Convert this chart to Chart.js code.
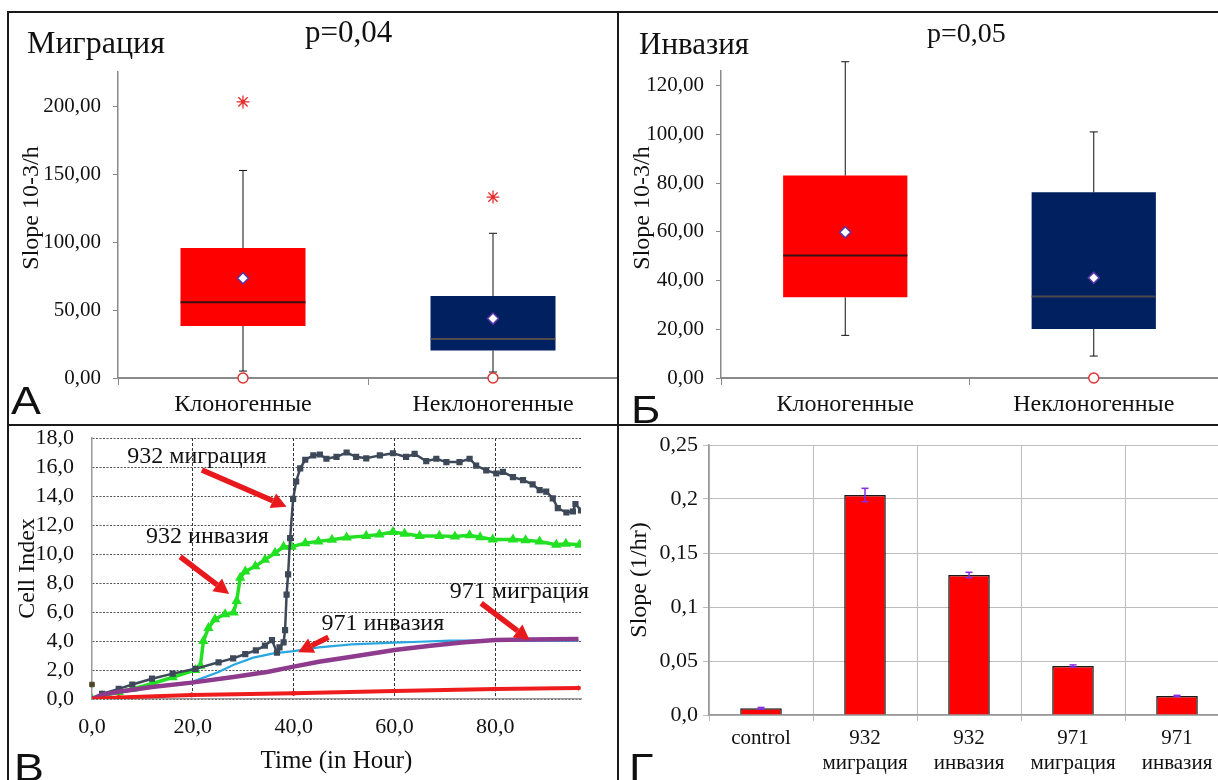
<!DOCTYPE html>
<html>
<head>
<meta charset="utf-8">
<script src="https://cdn.jsdelivr.net/npm/chart.js@4.4.1/dist/chart.umd.min.js"></script>
<style>
  body { margin: 0; background: #fff; }
  #page { position: relative; width: 1218px; height: 780px; overflow: hidden; background: #fff; font-family: "Liberation Serif", "Times New Roman", serif; color: #111; }
  .panel { position: absolute; overflow: hidden; }
  .rule { position: absolute; background: #1a1a1a; z-index: 3; }
  .txt { position: absolute; white-space: nowrap; z-index: 2; }
  .vtitle { position: absolute; white-space: nowrap; z-index: 2; font-size: 24px; transform: translate(-50%, -50%) rotate(-90deg); }
  .letter { position: absolute; font-family: "Liberation Sans", Arial, sans-serif; font-size: 38px; z-index: 2; transform: scaleX(1.18); transform-origin: left top; }
</style>
</head>
<body>
<div id="page">
  <div class="panel" style="left:0;top:0;width:618px;height:425px"><canvas id="chartA" width="618" height="425"></canvas></div>
  <div class="panel" style="left:618px;top:0;width:600px;height:425px"><canvas id="chartB" width="600" height="425"></canvas></div>
  <div class="panel" style="left:0;top:425px;width:618px;height:355px"><canvas id="chartC" width="618" height="355"></canvas></div>
  <div class="panel" style="left:618px;top:425px;width:600px;height:355px"><canvas id="chartD" width="612" height="355"></canvas></div>

  <div class="rule" style="left:7px;top:11px;width:1211px;height:2px"></div>
  <div class="rule" style="left:7px;top:11px;width:2px;height:769px"></div>
  <div class="rule" style="left:617px;top:11px;width:2px;height:769px"></div>
  <div class="rule" style="left:7px;top:424px;width:1211px;height:2px"></div>

  <div class="txt" style="left:27px;top:24px;font-size:32px">Миграция</div>
  <div class="txt" style="left:305px;top:14px;font-size:31px">p=0,04</div>
  <div class="txt" style="left:639px;top:26px;font-size:31px">Инвазия</div>
  <div class="txt" style="left:927px;top:17px;font-size:28px">p=0,05</div>
  <div class="vtitle" style="left:30px;top:208px">Slope 10-3/h</div>
  <div class="vtitle" style="left:641px;top:208px">Slope 10-3/h</div>

  <div class="letter" style="left:11px;top:380px">А</div>
  <div class="letter" style="left:631px;top:389px">Б</div>
  <div class="letter" style="left:14px;top:747px">В</div>
  <div class="letter" style="left:629px;top:747px">Г</div>
</div>

<script>
const FONT = '"Liberation Serif", "Times New Roman", serif';
Chart.defaults.font.family = FONT;
Chart.defaults.color = '#111';
Chart.defaults.animation = false;
Chart.defaults.events = [];
Chart.defaults.plugins.legend.display = false;
Chart.defaults.plugins.tooltip.enabled = false;

// ---- box plots (A, Б)
const groups = ['Клоногенные', 'Неклоногенные'];
const boxColors = ['#ff0000', '#002060'];

const migrQ1 = [38.3, 20.3];
const migrQ3 = [95.5, 60.3];
const migrMedian = [55.7, 28.6];
const migrMean = [73.3, 43.7];
const migrLow = [5.1, 4.4];
const migrHigh = [152.6, 106.4];
const migrExtreme = [203, 133];
const migrOutlier = [0, 0];
const migrTicks = [0, 50, 100, 150, 200];

const invQ1 = [33.1, 20.1];
const invQ3 = [83.1, 76.2];
const invMedian = [50.3, 33.5];
const invMean = [59.8, 41.1];
const invLow = [17.5, 9.0];
const invHigh = [129.8, 101];
const invExtreme = [null, null];
const invOutlier = [null, 0];
const invTicks = [0, 20, 40, 60, 80, 100, 120];

// ---- cell index curves (В)
const mig932T = [0, 2, 5.3, 8, 11.9, 16, 20.5, 25.1, 28, 30.4, 32.5, 34.3, 35.7, 36.7, 37.2, 38.0, 38.3, 38.6, 38.9, 39.3, 39.9, 40.5, 41.3, 42.3, 43.9, 45.2, 46.5, 48.5, 50.5, 52.4, 54.4, 57.1, 59.7, 62.3, 64, 66.3, 68.3, 70.3, 72.9, 74.9, 76.2, 78.2, 80.2, 81.5, 83.5, 85.5, 87.4, 88.8, 90.1, 91.4, 92.4, 94.1, 95.4, 95.9, 97];
const mig932V = [0, 0.35, 0.7, 1.0, 1.4, 1.75, 2.08, 2.53, 2.8, 3.1, 3.35, 3.68, 4.06, 3.2, 3.56, 3.9, 4.75, 7.2, 8.6, 11.1, 13.8, 15.0, 15.9, 16.5, 16.8, 16.86, 16.57, 16.7, 17.0, 16.7, 16.6, 16.8, 16.95, 16.7, 16.9, 16.4, 16.57, 16.34, 16.34, 16.57, 16.1, 15.77, 15.55, 15.66, 15.3, 15.1, 14.8, 14.4, 14.3, 13.84, 13.16, 12.86, 12.93, 13.45, 13.0];

const inv932T = [0, 2, 5.3, 8, 11.9, 16, 20.5, 21.5, 22.1, 23.1, 24.4, 26.4, 28.1, 28.7, 29.4, 30.4, 32.4, 34.3, 36.3, 38, 39.6, 42.3, 44.9, 47.6, 50.5, 54.4, 57, 59.7, 62, 65, 68.9, 72, 74.9, 77, 79.5, 83.5, 86, 88.8, 92.1, 94, 96.7];
const inv932V = [0, 0.2, 0.48, 0.7, 1.05, 1.5, 2.0, 2.3, 4.0, 4.9, 5.5, 5.85, 5.96, 6.76, 8.36, 8.8, 9.15, 9.6, 10.07, 10.5, 10.5, 10.75, 10.87, 10.98, 11.14, 11.25, 11.35, 11.52, 11.4, 11.25, 11.25, 11.2, 11.3, 11.15, 11.0, 11.0, 10.95, 10.86, 10.64, 10.7, 10.64];

const inv971T = [0, 3, 8, 14, 20, 25, 28, 32, 36, 40, 45, 51.5, 60, 65, 71, 80, 86.5, 96.5];
const inv971V = [0, 0.3, 0.6, 0.9, 1.2, 1.85, 2.35, 2.85, 3.15, 3.3, 3.56, 3.77, 3.89, 3.95, 4.02, 4.02, 4.0, 4.02];

const mig971T = [0, 2, 5.3, 11.9, 19.8, 28.4, 35, 40, 45, 51.5, 60, 66.7, 73.3, 80, 86.5, 96.5];
const mig971V = [0, 0.3, 0.5, 0.83, 1.13, 1.54, 1.88, 2.23, 2.57, 2.92, 3.38, 3.66, 3.89, 4.07, 4.11, 4.14];

const controlT = [0, 5.3, 19.8, 40, 60, 80, 96.5];
const controlV = [0, 0.11, 0.28, 0.39, 0.55, 0.69, 0.76];

const strayT = [0];
const strayV = [1.0];

const timeTicks = [0, 20, 40, 60, 80];
const cellTicks = [0, 2, 4, 6, 8, 10, 12, 14, 16, 18];

const noteLabels = ['932 миграция', '932 инвазия', '971 инвазия', '971 миграция'];
const noteAt = [[20.8, 16.25], [22.9, 10.74], [57.7, 4.76], [84.8, 6.94]];
const arrowFrom = [[21.8, 15.8], [17.5, 9.81], [46.9, 4.26], [77.2, 6.6]];
const arrowTo = [[38.6, 13.26], [27.2, 7.24], [40.9, 3.22], [86.8, 4.07]];

// ---- slopes (Г)
const slopeLabels = ['control', ['932', 'миграция'], ['932', 'инвазия'], ['971', 'миграция'], ['971', 'инвазия']];
const slopeVals = [0.0062, 0.2037, 0.1296, 0.0454, 0.0176];
const slopeErr = [0.0008, 0.0062, 0.0025, 0.001, 0.0006];
const slopeTicks = [0, 0.05, 0.1, 0.15, 0.2, 0.25];
const slopeTickText = ['0,0', '0,05', '0,1', '0,15', '0,2', '0,25'];

const comma = (v, d) => v.toFixed(d).replace('.', ',');
const toPts = (t, v) => t.map((x, i) => ({ x: x, y: v[i] }));

function line(ctx, x0, y0, x1, y1) {
  ctx.beginPath(); ctx.moveTo(x0, y0); ctx.lineTo(x1, y1); ctx.stroke();
}

// whiskers + medians for the floating bars
const boxPlugin = {
  id: 'boxes',
  afterDatasetDraw(chart, args, opts) {
    if (!opts.median || args.meta.type !== 'bar') return;
    const ctx = chart.ctx, y = chart.scales.y;
    args.meta.data.forEach((bar, i) => {
      const x = bar.x, half = bar.width / 2;
      ctx.save();
      ctx.strokeStyle = '#111';
      ctx.lineWidth = 1;
      line(ctx, x, y.getPixelForValue(opts.q3[i]), x, y.getPixelForValue(opts.high[i]));
      line(ctx, x - 4, y.getPixelForValue(opts.high[i]), x + 4, y.getPixelForValue(opts.high[i]));
      line(ctx, x, y.getPixelForValue(opts.q1[i]), x, y.getPixelForValue(opts.low[i]));
      line(ctx, x - 4, y.getPixelForValue(opts.low[i]), x + 4, y.getPixelForValue(opts.low[i]));
      ctx.strokeStyle = opts.medianColor[i];
      ctx.lineWidth = opts.medianWidth[i];
      line(ctx, x - half, y.getPixelForValue(opts.median[i]), x + half, y.getPixelForValue(opts.median[i]));
      ctx.restore();
    });
  }
};

function boxChart(id, q1, q3, med, mean, low, high, extreme, outlier, ticks, yMax, axisW, topPad, medColors, medWidths) {
  return new Chart(document.getElementById(id), {
    type: 'bar',
    data: {
      labels: groups,
      datasets: [
        { type: 'line', data: mean, showLine: false, order: 0, pointStyle: 'rectRot', pointRadius: 5.5,
          pointBackgroundColor: '#fff', pointBorderColor: '#5636a8', pointBorderWidth: 1.5 },
        { type: 'line', data: extreme, showLine: false, order: 0, pointStyle: 'star', pointRadius: 6.5,
          pointBorderColor: '#e52b2b', pointBorderWidth: 1.3 },
        { type: 'line', data: outlier, showLine: false, order: 0, clip: false, pointStyle: 'circle', pointRadius: 5,
          pointBackgroundColor: '#fff', pointBorderColor: '#e03030', pointBorderWidth: 1.4 },
        { data: groups.map((g, i) => [q1[i], q3[i]]), order: 1, backgroundColor: boxColors,
          barPercentage: 0.5, categoryPercentage: 1 }
      ]
    },
    options: {
      responsive: false,
      layout: { autoPadding: false, padding: { top: topPad, left: 0, right: 0, bottom: 0 } },
      scales: {
        x: {
          grid: { drawOnChartArea: false, offset: true, color: '#8a8a8a', tickLength: 7 },
          border: { color: '#8a8a8a', width: 2 },
          ticks: { font: { size: 24 }, padding: 5, color: '#111' },
          afterFit: s => { s.height = 47; s.paddingLeft = 0; s.paddingRight = 0; }
        },
        y: {
          min: 0, max: yMax,
          afterBuildTicks: s => { s.ticks = ticks.map(v => ({ value: v })); },
          grid: { drawOnChartArea: false, color: '#8a8a8a', tickLength: 5 },
          border: { color: '#8a8a8a', width: 1.5 },
          ticks: { font: { size: 21 }, padding: 12, color: '#111', autoSkip: false, callback: v => comma(v, 2) },
          afterFit: s => { s.width = axisW; s.paddingTop = 0; s.paddingBottom = 0; }
        }
      },
      plugins: {
        boxes: { q1: q1, q3: q3, median: med, low: low, high: high, medianColor: medColors, medianWidth: medWidths }
      }
    },
    plugins: [boxPlugin]
  });
}

boxChart('chartA', migrQ1, migrQ3, migrMedian, migrMean, migrLow, migrHigh, migrExtreme, migrOutlier,
  migrTicks, 225, 118, 72, ['#3a1010', '#6b5b48'], [2, 1.5]);
boxChart('chartB', invQ1, invQ3, invMedian, invMean, invLow, invHigh, invExtreme, invOutlier,
  invTicks, 126, 103, 71, ['#3a1010', '#4a4a4a'], [2, 2]);

// red arrows and captions on the growth curves
const notePlugin = {
  id: 'notes',
  afterDatasetsDraw(chart, args, opts) {
    const ctx = chart.ctx, x = chart.scales.x, y = chart.scales.y;
    ctx.save();
    opts.labels.forEach((txt, i) => {
      const x0 = x.getPixelForValue(opts.from[i][0]), y0 = y.getPixelForValue(opts.from[i][1]);
      const x1 = x.getPixelForValue(opts.to[i][0]), y1 = y.getPixelForValue(opts.to[i][1]);
      const a = Math.atan2(y1 - y0, x1 - x0);
      const bx = x1 - 15 * Math.cos(a), by = y1 - 15 * Math.sin(a);
      ctx.strokeStyle = '#e8191c';
      ctx.fillStyle = '#e8191c';
      ctx.lineWidth = 5.5;
      line(ctx, x0, y0, bx, by);
      ctx.beginPath();
      ctx.moveTo(x1, y1);
      ctx.lineTo(bx - 8 * Math.sin(a), by + 8 * Math.cos(a));
      ctx.lineTo(bx + 8 * Math.sin(a), by - 8 * Math.cos(a));
      ctx.closePath();
      ctx.fill();
      ctx.fillStyle = '#111';
      ctx.font = '24px ' + FONT;
      ctx.textAlign = 'center';
      ctx.textBaseline = 'alphabetic';
      ctx.fillText(txt, x.getPixelForValue(opts.at[i][0]), y.getPixelForValue(opts.at[i][1]));
    });
    ctx.restore();
  }
};

new Chart(document.getElementById('chartC'), {
  type: 'scatter',
  data: {
    datasets: [
      { data: toPts(controlT, controlV), showLine: true, borderColor: '#ee1c1c', borderWidth: 4,
        pointStyle: 'star', pointRadius: 2, pointBorderColor: '#ee1c1c' },
      { data: toPts(mig971T, mig971V), showLine: true, borderColor: '#8e3b8e', borderWidth: 4.5,
        pointRadius: 0 },
      { data: toPts(mig932T, mig932V), showLine: true, borderColor: '#3d4858', borderWidth: 2.5,
        pointStyle: 'rect', pointRadius: 2.6, pointBackgroundColor: '#3d4858', pointBorderColor: '#3d4858' },
      { data: toPts(inv932T, inv932V), showLine: true, borderColor: '#22e022', borderWidth: 3.5,
        pointStyle: 'triangle', pointRadius: 2.5, pointBackgroundColor: '#22e022', pointBorderColor: '#22e022' },
      { data: toPts(inv971T, inv971V), showLine: true, borderColor: '#29a7df', borderWidth: 2.2,
        pointRadius: 0 },
      { data: toPts(strayT, strayV), pointStyle: 'rect', pointRadius: 3.2, clip: false,
        pointBackgroundColor: '#4d4526', pointBorderColor: '#4d4526' }
    ]
  },
  options: {
    responsive: false,
    layout: { autoPadding: false, padding: { top: 13, left: 0, right: 37, bottom: 0 } },
    scales: {
      x: {
        type: 'linear', min: 0, max: 97,
        afterBuildTicks: s => { s.ticks = timeTicks.map(v => ({ value: v })); },
        grid: { color: c => c.tick && c.tick.value === 0 ? 'rgba(0,0,0,0)' : '#333', drawTicks: false, lineWidth: 1 },
        border: { color: '#999', width: 1.5, dash: [3, 2] },
        ticks: { font: { size: 22 }, padding: 15, color: '#111', autoSkip: false, callback: v => comma(v, 1) },
        title: { display: true, text: 'Time (in Hour)', font: { size: 25 }, color: '#111', padding: { top: 5 } },
        afterFit: s => { s.height = 81; s.paddingLeft = 0; s.paddingRight = 0; }
      },
      y: {
        min: 0, max: 18,
        afterBuildTicks: s => { s.ticks = cellTicks.map(v => ({ value: v })); },
        grid: { color: '#555', drawTicks: false, lineWidth: 1 },
        border: { color: '#999', width: 1.5, dash: [2, 1.5] },
        ticks: { font: { size: 22 }, padding: 18, color: '#111', autoSkip: false, callback: v => comma(v, 1) },
        title: { display: true, text: 'Cell Index', font: { size: 24 }, color: '#111', padding: { top: 13 } },
        afterFit: s => { s.width = 92; s.paddingTop = 0; s.paddingBottom = 0; }
      }
    },
    plugins: {
      notes: { labels: noteLabels, at: noteAt, from: arrowFrom, to: arrowTo }
    }
  },
  plugins: [notePlugin]
});

// error bars on the slope bars
const errPlugin = {
  id: 'errbars',
  afterDatasetsDraw(chart, args, opts) {
    const ctx = chart.ctx, y = chart.scales.y;
    const meta = chart.getDatasetMeta(0);
    ctx.save();
    ctx.strokeStyle = '#8a2be2';
    ctx.lineWidth = 1.5;
    meta.data.forEach((bar, i) => {
      const v = chart.data.datasets[0].data[i];
      const yt = y.getPixelForValue(v + opts.err[i]), yb = y.getPixelForValue(v - opts.err[i]);
      line(ctx, bar.x, yt, bar.x, yb);
      line(ctx, bar.x - 3.5, yt, bar.x + 3.5, yt);
      line(ctx, bar.x - 3.5, yb, bar.x + 3.5, yb);
    });
    ctx.restore();
  }
};

new Chart(document.getElementById('chartD'), {
  type: 'bar',
  data: {
    labels: slopeLabels,
    datasets: [{ data: slopeVals, backgroundColor: '#ff0000', borderColor: '#1a1a1a', borderWidth: 1.5,
      barPercentage: 0.4, categoryPercentage: 1 }]
  },
  options: {
    responsive: false,
    layout: { autoPadding: false, padding: { top: 20, left: 0, right: 1, bottom: 0 } },
    scales: {
      x: {
        grid: { offset: true, color: '#bdbdbd', tickLength: 6 },
        border: { color: '#9a9a9a', width: 1.5 },
        ticks: { font: { size: 21 }, padding: 5, color: '#111', autoSkip: false, maxRotation: 0 },
        afterFit: s => { s.height = 65; s.paddingLeft = 0; s.paddingRight = 0; }
      },
      y: {
        min: 0, max: 0.25,
        afterBuildTicks: s => { s.ticks = slopeTicks.map(v => ({ value: v })); },
        grid: { color: '#bdbdbd', tickLength: 6 },
        border: { color: '#9a9a9a', width: 1.5 },
        ticks: { font: { size: 22 }, padding: 5, color: '#111', autoSkip: false, callback: (v, i) => slopeTickText[i] },
        title: { display: true, text: 'Slope (1/hr)', font: { size: 24 }, color: '#111', padding: { top: 7 } },
        afterFit: s => { s.width = 91; s.paddingTop = 0; s.paddingBottom = 0; }
      }
    },
    plugins: { errbars: { err: slopeErr } }
  },
  plugins: [errPlugin]
});
</script>
</body>
</html>
